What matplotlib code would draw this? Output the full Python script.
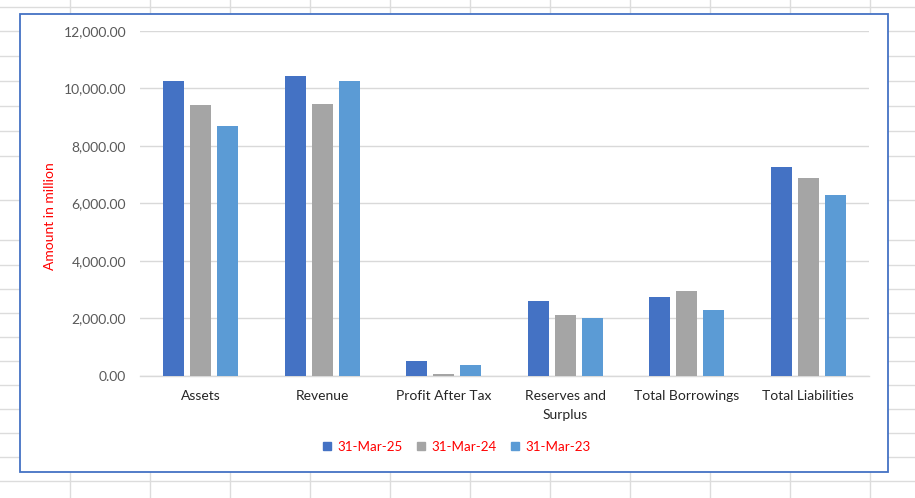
"""Grouped bar chart of key financials (Excel-style) on a spreadsheet background."""

import matplotlib
matplotlib.use("Agg")
import matplotlib.pyplot as plt
from matplotlib.lines import Line2D
from matplotlib.patches import Rectangle
import numpy as np

# ── Data ──────────────────────────────────────────────────────────────────────
categories = ["Assets", "Revenue", "Profit After Tax", "Reserves and\nSurplus",
              "Total Borrowings", "Total Liabilities"]
series_names = ["31-Mar-25", "31-Mar-24", "31-Mar-23"]
mar25 = [10260, 10435, 522, 2610, 2750, 7270]
mar24 = [9425, 9460, 70, 2120, 2955, 6890]
mar23 = [8695, 10260, 385, 2015, 2295, 6295]
y_ticks = [0, 2000, 4000, 6000, 8000, 10000, 12000]

# ── Style ─────────────────────────────────────────────────────────────────────
COLORS    = ["#4472C4", "#A5A5A5", "#5B9BD5"]
GRID      = "#D9D9D9"
SHEET     = "#DCDCDC"
FONT      = "Lato"
W, H      = 915, 498

# spreadsheet cell lines (pixel positions)
sheet_cols = [69.5 + 80 * k for k in range(11)]
sheet_rows = [7, 31, 56, 81, 106, 131, 156, 200, 240, 265, 289, 313, 337,
              361, 385, 409, 433, 457, 481]

plt.rcParams["font.family"] = [FONT, "DejaVu Sans"]

fig = plt.figure(figsize=(W / 100, H / 100), dpi=100)

# background sheet
bg = fig.add_axes([0, 0, 1, 1], zorder=0)
bg.set_xlim(0, W)
bg.set_ylim(H, 0)
bg.axis("off")
for x in sheet_cols:
    bg.axvline(x, color=SHEET, lw=1)
for y in sheet_rows:
    bg.axhline(y, color=SHEET, lw=1)
bg.add_patch(Rectangle((19.5, 14), 868.8, 457.7, facecolor="white",
                       edgecolor="#4472C4", lw=1.3, zorder=3))

# main chart
left, right, top, bottom = 140, 869, 31, 376
ax = fig.add_axes([left / W, 1 - bottom / H, (right - left) / W, (bottom - top) / H],
                  zorder=1)
ax.patch.set_alpha(0)

x = np.arange(len(categories))
bar_w = 0.173
step  = 0.222
for i, (vals, name) in enumerate(zip([mar25, mar24, mar23], series_names)):
    ax.bar(x + (i - 1) * step, vals, width=bar_w, color=COLORS[i], label=name, zorder=3)

ax.set_xlim(-0.5, len(categories) - 0.5)
ax.set_ylim(0, 12000)
ax.set_yticks(y_ticks)
ax.set_yticklabels([f"{v:,.2f}" for v in y_ticks], fontsize=10, color="#595959")
ax.set_xticks(x)
ax.set_xticklabels(categories, fontsize=10, color="#262626", linespacing=1.7)
ax.tick_params(axis="both", length=0)
ax.tick_params(axis="y", pad=10)
ax.tick_params(axis="x", pad=10)
ax.yaxis.grid(True, color=GRID, lw=1, zorder=0)
ax.set_axisbelow(True)
for s in ["top", "right", "left"]:
    ax.spines[s].set_visible(False)
ax.spines["bottom"].set_color(GRID)
ax.spines["bottom"].set_linewidth(1)

fig.text(50 / W, 1 - 216 / H, "Amount in million", rotation=90, color="red",
         fontsize=10, ha="center", va="center")

handles = [Line2D([], [], marker="s", linestyle="none", markersize=6,
                  markerfacecolor=c, markeredgecolor=c) for c in COLORS]
leg = fig.legend(handles, series_names, loc="center", ncol=3,
                 bbox_to_anchor=(456 / W, 1 - 447 / H), frameon=False,
                 fontsize=9.6, handlelength=0.8, handletextpad=0.35,
                 columnspacing=1.0)
for t in leg.get_texts():
    t.set_color("red")

fig.savefig("out.png", dpi=100)
